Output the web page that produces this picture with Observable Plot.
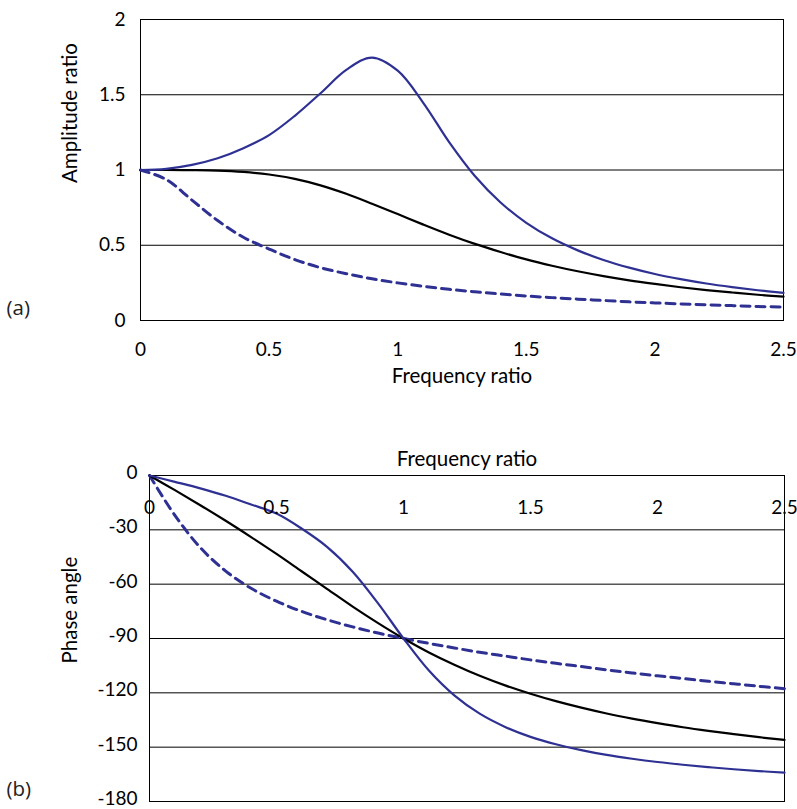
<!DOCTYPE html>
<html>
<head>
<meta charset="utf-8">
<script src="https://cdn.jsdelivr.net/npm/d3@7"></script>
<script src="https://cdn.jsdelivr.net/npm/@observablehq/plot@0.6"></script>
<style>
  html, body { margin: 0; padding: 0; background: #fff; }
  #wrap { width: 797px; height: 809px; position: relative; overflow: hidden; }
  #wrap svg { display: block; }
</style>
</head>
<body>
<div id="wrap"></div>
<script>
// Frequency ratio samples
const freq = [0, 0.1, 0.2, 0.3, 0.4, 0.5, 0.6, 0.7, 0.8, 0.9, 1.0, 1.1, 1.2, 1.3, 1.4, 1.5, 1.6, 1.7, 1.8, 1.9, 2.0, 2.1, 2.2, 2.3, 2.4, 2.5];

// (a) Amplitude ratio
const ampBlue   = [1, 1.008, 1.034, 1.078, 1.145, 1.232, 1.36, 1.51, 1.665, 1.747, 1.66, 1.445, 1.185, 0.96, 0.784, 0.649, 0.546, 0.466, 0.402, 0.351, 0.309, 0.275, 0.246, 0.222, 0.201, 0.183];
const ampBlack  = [1, 1.0, 0.999, 0.996, 0.987, 0.97, 0.941, 0.898, 0.842, 0.776, 0.707, 0.637, 0.57, 0.509, 0.455, 0.406, 0.364, 0.327, 0.295, 0.267, 0.243, 0.221, 0.202, 0.186, 0.171, 0.158];
const ampDashed = [1, 0.937, 0.8, 0.664, 0.553, 0.475, 0.405, 0.351, 0.311, 0.277, 0.25, 0.227, 0.207, 0.191, 0.176, 0.163, 0.152, 0.142, 0.133, 0.124, 0.117, 0.11, 0.104, 0.099, 0.093, 0.089];

// (b) Phase angle (degrees)
const phaseBlue   = [0, -3.5, -7.1, -11.2, -16, -21, -29.4, -39.5, -53.1, -70.6, -90, -107.7, -121.4, -131.5, -138.8, -144.3, -148.4, -151.6, -154.3, -156.4, -158.2, -159.7, -161, -162.2, -163.2, -164.1];
const phaseBlack  = [0, -8.1, -16.4, -25, -34, -43.3, -53, -62.7, -72.4, -81.5, -90, -97.7, -104.5, -110.6, -115.9, -120.5, -124.6, -128.2, -131.4, -134.2, -136.7, -139, -141, -142.8, -144.5, -146];
const phaseDashed = [0, -22, -39.8, -52.8, -62.3, -69.4, -75.1, -79.7, -83.6, -87, -90, -92.7, -95.2, -97.6, -99.7, -101.8, -103.7, -105.5, -107.3, -109, -110.6, -112.1, -113.6, -115, -116.4, -117.7];

// Tick values and labels
const freqTicks = [0, 0.5, 1, 1.5, 2, 2.5];
const ampTicks = [0, 0.5, 1, 1.5, 2];
const phaseTicks = [0, -30, -60, -90, -120, -150, -180];
const xTitle = "Frequency ratio";
const ampTitle = "Amplitude ratio";
const phaseTitle = "Phase angle";
const panelLabels = ["(a)", "(b)"];

const BLUE = "#2e3192";
const FONT = "Lato, 'Open Sans', 'DejaVu Sans', sans-serif";
const TICK_FS = 19;
const TITLE_FS = 20.5;

const rows = (ys) => freq.map((f, i) => ({f, v: ys[i]}));
const fmt = (d) => String(d);

const styleCommon = {fontFamily: FONT, fontSize: TICK_FS + "px", color: "black", background: "white", overflow: "visible"};

const lineMarks = (a, b, c) => [
  Plot.line(rows(c), {x: "f", y: "v", stroke: BLUE, strokeWidth: 3, strokeDasharray: "9,6", curve: "catmull-rom"}),
  Plot.line(rows(b), {x: "f", y: "v", stroke: "black", strokeWidth: 2.2, curve: "catmull-rom"}),
  Plot.line(rows(a), {x: "f", y: "v", stroke: BLUE, strokeWidth: 2.2, curve: "catmull-rom"})
];

const chartA = Plot.plot({
  width: 797, height: 400,
  marginLeft: 140, marginRight: 14, marginTop: 19, marginBottom: 80,
  style: styleCommon,
  x: {domain: [0, 2.5]},
  y: {domain: [0, 2]},
  marks: [
    Plot.ruleY(ampTicks, {stroke: "black", strokeWidth: 1}),
    Plot.frame({stroke: "black", strokeWidth: 1}),
    Plot.axisX(freqTicks, {tickSize: 0, tickPadding: 22, tickFormat: fmt, label: null, fontSize: TICK_FS}),
    Plot.axisY(ampTicks, {tickSize: 0, tickPadding: 15, tickFormat: fmt, label: null, fontSize: TICK_FS}),
    ...lineMarks(ampBlue, ampBlack, ampDashed),
    Plot.text([xTitle], {frameAnchor: "bottom", dy: 62.5, fontSize: TITLE_FS}),
    Plot.text([ampTitle], {frameAnchor: "left", dx: -70, dy: 13, rotate: -90, fontSize: TITLE_FS}),
    Plot.text([panelLabels[0]], {frameAnchor: "bottom-left", dx: -134, dy: -6, textAnchor: "start", fontSize: TITLE_FS, fontFamily: "'Open Sans', sans-serif", fill: "#222"})
  ]
});

const chartB = Plot.plot({
  width: 797, height: 409,
  marginLeft: 149, marginRight: 13, marginTop: 75, marginBottom: 8,
  style: styleCommon,
  x: {domain: [0, 2.5], axis: null},
  y: {domain: [-180, 0]},
  marks: [
    Plot.ruleY(phaseTicks, {stroke: "black", strokeWidth: 1}),
    Plot.frame({stroke: "black", strokeWidth: 1}),
    Plot.axisY(phaseTicks, {tickSize: 0, tickPadding: 12, tickFormat: fmt, label: null, fontSize: TICK_FS, dy: -2.5}),
    ...lineMarks(phaseBlue, phaseBlack, phaseDashed),
    Plot.text(freqTicks, {x: (d) => d, text: fmt, frameAnchor: "top", dy: 25, fontSize: TICK_FS}),
    Plot.text([xTitle], {frameAnchor: "top", dy: -24.5, fontSize: TITLE_FS}),
    Plot.text([phaseTitle], {frameAnchor: "left", dx: -79, dy: 25, rotate: -90, fontSize: TITLE_FS}),
    Plot.text([panelLabels[1]], {frameAnchor: "bottom-left", dx: -143, dy: -6, textAnchor: "start", fontSize: TITLE_FS, fontFamily: "'Open Sans', sans-serif", fill: "#222"})
  ]
});

const wrap = document.getElementById("wrap");
wrap.appendChild(chartA);
wrap.appendChild(chartB);
</script>
</body>
</html>
